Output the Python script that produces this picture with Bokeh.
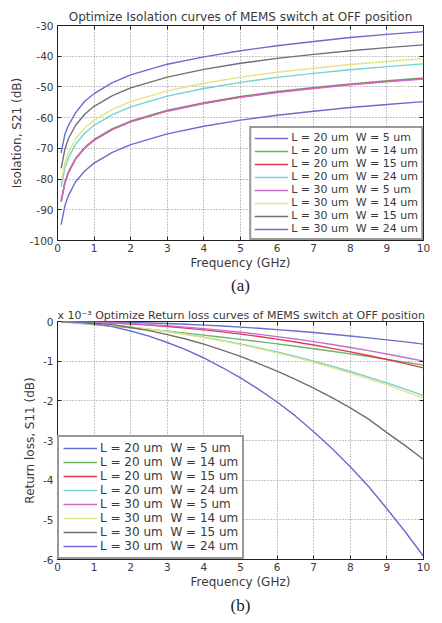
from bokeh.plotting import figure
from bokeh.models import (Legend, LegendItem, Title, FixedTicker, Range1d,
                          PrintfTickFormatter, LinearAxis)
from bokeh.layouts import column
from bokeh.embed import file_html
from bokeh.resources import INLINE

# ---------------- data ----------------
labels = [
    "L = 20 um\u00a0\u00a0W = 5 um",
    "L = 20 um\u00a0\u00a0W = 14 um",
    "L = 20 um\u00a0\u00a0W = 15 um",
    "L = 20 um\u00a0\u00a0W = 24 um",
    "L = 30 um\u00a0\u00a0W = 5 um",
    "L = 30 um\u00a0\u00a0W = 14 um",
    "L = 30 um\u00a0\u00a0W = 15 um",
    "L = 30 um\u00a0\u00a0W = 24 um",
]
colors = ["#6b6bd0", "#6cb46c", "#e03a55", "#74d2d2",
          "#c86ec8", "#e4e482", "#707070", "#6b6bd0"]

# Isolation S21 (dB) vs frequency (GHz)
freq_iso = [0.1, 0.2, 0.3, 0.5, 0.75, 1, 1.5, 2, 3, 4, 5, 6, 7, 8, 9, 10]
iso_L20_W5 = [-94.8, -88.8, -85.3, -80.8, -77.3, -74.8, -71.3, -68.8, -65.3, -62.8, -60.8, -59.2, -57.9, -56.7, -55.7, -54.8]
iso_L20_W14 = [-87.1, -81.1, -77.6, -73.1, -69.6, -67.1, -63.6, -61.1, -57.6, -55.1, -53.1, -51.5, -50.2, -49.0, -48.0, -47.1]
iso_L20_W15 = [-87.3, -81.3, -77.8, -73.3, -69.8, -67.3, -63.8, -61.3, -57.8, -55.3, -53.3, -51.7, -50.4, -49.2, -48.2, -47.3]
iso_L20_W24 = [-82.5, -76.5, -73.0, -68.5, -65.0, -62.5, -59.0, -56.5, -53.0, -50.5, -48.5, -46.9, -45.6, -44.4, -43.4, -42.5]
iso_L30_W5 = [-87.4, -81.4, -77.9, -73.4, -69.9, -67.4, -63.9, -61.4, -57.9, -55.4, -53.4, -51.8, -50.5, -49.3, -48.3, -47.4]
iso_L30_W14 = [-80.8, -74.8, -71.3, -66.8, -63.3, -60.8, -57.3, -54.8, -51.3, -48.8, -46.8, -45.2, -43.9, -42.7, -41.7, -40.8]
iso_L30_W15 = [-76.5, -70.4, -66.8, -62.4, -58.8, -56.3, -52.8, -50.3, -46.8, -44.3, -42.3, -40.7, -39.4, -38.2, -37.2, -36.3]
iso_L30_W24 = [-71.5, -65.5, -62.5, -58.3, -54.6, -52.2, -48.6, -46.1, -42.6, -40.2, -38.2, -36.6, -35.2, -33.9, -32.9, -32.0]

# Return loss S11 (x 1e-3 dB) vs frequency (GHz)
freq_rl = [0.1, 0.5, 1, 1.5, 2, 2.5, 3, 3.5, 4, 4.5, 5, 5.5, 6, 6.5, 7, 7.5, 8, 8.5, 9, 9.5, 10]
rl_L20_W5 = [0, -0.001, -0.006, -0.013, -0.023, -0.036, -0.051, -0.07, -0.091, -0.115, -0.143, -0.172, -0.205, -0.241, -0.279, -0.321, -0.365, -0.412, -0.462, -0.514, -0.57]
rl_L20_W14 = [-0.007, -0.036, -0.074, -0.114, -0.156, -0.2, -0.246, -0.294, -0.344, -0.396, -0.45, -0.506, -0.564, -0.624, -0.686, -0.75, -0.816, -0.884, -0.954, -1.026, -1.1]
rl_L20_W15 = [-0.001, -0.008, -0.021, -0.039, -0.063, -0.092, -0.126, -0.166, -0.211, -0.262, -0.318, -0.379, -0.445, -0.517, -0.594, -0.677, -0.765, -0.858, -0.957, -1.061, -1.17]
rl_L20_W24 = [-0.004, -0.024, -0.055, -0.093, -0.139, -0.192, -0.252, -0.32, -0.395, -0.478, -0.568, -0.665, -0.769, -0.881, -1.0, -1.127, -1.261, -1.402, -1.551, -1.707, -1.87]
rl_L30_W5 = [-0.001, -0.007, -0.018, -0.033, -0.054, -0.079, -0.108, -0.142, -0.18, -0.224, -0.272, -0.324, -0.38, -0.442, -0.508, -0.579, -0.654, -0.734, -0.818, -0.907, -1.0]
rl_L30_W14 = [-0.004, -0.024, -0.055, -0.094, -0.141, -0.196, -0.258, -0.327, -0.405, -0.49, -0.583, -0.683, -0.791, -0.906, -1.03, -1.161, -1.299, -1.445, -1.599, -1.761, -1.93]
rl_L30_W15 = [0, -0.01, -0.04, -0.08, -0.15, -0.23, -0.33, -0.44, -0.57, -0.72, -0.88, -1.06, -1.25, -1.46, -1.68, -1.92, -2.18, -2.46, -2.8, -3.13, -3.48]
rl_L30_W24 = [0, -0.015, -0.06, -0.13, -0.24, -0.37, -0.53, -0.71, -0.92, -1.16, -1.42, -1.71, -2.03, -2.38, -2.78, -3.2, -3.66, -4.16, -4.72, -5.3, -5.92]

x_ticks = [0, 1, 2, 3, 4, 5, 6, 7, 8, 9, 10]
iso_ticks = [-100, -90, -80, -70, -60, -50, -40, -30]
rl_ticks = [-6, -5, -4, -3, -2, -1, 0]

iso_series = [iso_L20_W5, iso_L20_W14, iso_L20_W15, iso_L20_W24,
              iso_L30_W5, iso_L30_W14, iso_L30_W15, iso_L30_W24]
rl_series = [rl_L20_W5, rl_L20_W14, rl_L20_W15, rl_L20_W24,
             rl_L30_W5, rl_L30_W14, rl_L30_W15, rl_L30_W24]

FONT = "DejaVu Sans"
TXT = "#3a3a3a"


def mirror_axis(p, ticks, side):
    ax = LinearAxis(ticker=FixedTicker(ticks=ticks),
                    major_label_overrides={t: "" for t in ticks})
    ax.major_label_standoff = 0
    ax.major_label_text_font_size = "1px"
    ax.axis_line_color = None
    ax.major_tick_in = 4
    ax.major_tick_out = 0
    ax.major_tick_line_color = "#222222"
    ax.minor_tick_line_color = None
    p.add_layout(ax, side)


def style(p, yticks, ylabel):
    p.xaxis.ticker = FixedTicker(ticks=x_ticks)
    p.yaxis.ticker = FixedTicker(ticks=yticks)
    p.xaxis.formatter = PrintfTickFormatter(format="%d")
    p.yaxis.formatter = PrintfTickFormatter(format="%d")
    for ax in (p.xaxis, p.yaxis):
        ax.major_tick_in = 4
        ax.major_tick_out = 0
        ax.minor_tick_line_color = None
        ax.axis_line_color = "#222222"
        ax.major_tick_line_color = "#222222"
        ax.major_label_text_font = FONT
        ax.major_label_text_font_size = "10.5px"
        ax.major_label_text_color = TXT
        ax.axis_label_text_font = FONT
        ax.axis_label_text_font_size = "12px"
        ax.axis_label_text_font_style = "normal"
        ax.axis_label_text_color = TXT
    p.xaxis.axis_label = "Frequency (GHz)"
    p.yaxis.axis_label = ylabel
    p.xaxis.major_label_standoff = 3
    p.yaxis.major_label_standoff = 4
    p.xaxis.axis_label_standoff = 1
    p.yaxis.axis_label_standoff = 3
    p.grid.grid_line_color = "#8a8a8a"
    p.grid.grid_line_dash = "1 2"
    p.grid.grid_line_width = 1
    p.outline_line_color = "#222222"
    p.outline_line_alpha = 1
    p.outline_line_width = 1
    p.title.text_font = FONT
    p.title.text_font_style = "normal"
    p.title.text_color = TXT
    mirror_axis(p, yticks, "right")
    mirror_axis(p, x_ticks, "above")


def add_legend(p, renderers, loc, font_size, pad):
    items = [LegendItem(label=l, renderers=[r]) for l, r in zip(labels, renderers)]
    leg = Legend(items=items, location=loc)
    leg.label_text_font = FONT
    leg.label_text_font_size = font_size
    leg.label_text_line_height = 1.0
    leg.label_text_color = TXT
    leg.glyph_width = 34
    leg.glyph_height = 12
    leg.label_height = 12
    leg.label_standoff = 3
    leg.spacing = 0
    leg.padding = pad
    leg.margin = 0
    leg.border_line_color = "#333333"
    leg.border_line_width = 2
    leg.background_fill_alpha = 1
    p.add_layout(leg)


# ---------------- figure (a) ----------------
p1 = figure(width=434, height=300, x_range=Range1d(0, 10), y_range=Range1d(-100, -30),
            output_backend="svg", toolbar_location=None,
            min_border_left=55, min_border_right=9, min_border_top=25, min_border_bottom=60,
            title="Optimize Isolation curves of MEMS switch at OFF position")
style(p1, iso_ticks, "Isolation, S21 (dB)")
p1.title.align = "center"
p1.title.text_font_size = "12px"
p1.title.standoff = 3
r1 = []
for ys, c in zip(iso_series, colors):
    r1.append(p1.line(freq_iso, ys, line_color=c, line_width=1.4))
add_legend(p1, r1, "bottom_right", "11px", 3)
p1.add_layout(Title(text="(a)", align="center", text_font="Liberation Serif",
                    text_font_size="17px", text_font_style="normal", text_color="#222222",
                    standoff=2), "below")

# ---------------- figure (b) ----------------
p2 = figure(width=434, height=318, x_range=Range1d(0, 10), y_range=Range1d(-6, 0),
            output_backend="svg", toolbar_location=None,
            min_border_left=57, min_border_right=11, min_border_top=21, min_border_bottom=59,
            title="x 10\u207b\u00b3 Optimize Return loss curves of MEMS switch at OFF position")
style(p2, rl_ticks, "Return loss, S11 (dB)")
p2.title.align = "left"
p2.title.text_font_size = "11px"
p2.title.standoff = 0
r2 = []
for ys, c in zip(rl_series, colors):
    r2.append(p2.line(freq_rl, ys, line_color=c, line_width=1.4))
add_legend(p2, r2, "bottom_left", "12px", 4)
p2.add_layout(Title(text="(b)", align="center", text_font="Liberation Serif",
                    text_font_size="17px", text_font_style="normal", text_color="#222222",
                    standoff=5), "below")

layout = column(p1, p2, spacing=0)
open("out.html", "w").write(file_html(layout, INLINE))
